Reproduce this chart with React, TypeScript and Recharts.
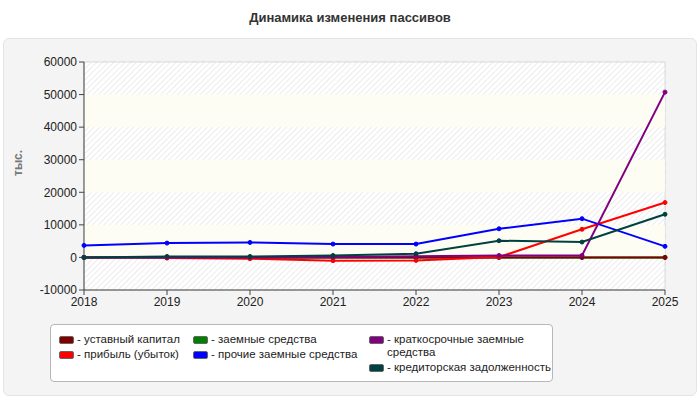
import React from "react";
import {
  CartesianGrid,
  Line,
  LineChart,
  ReferenceArea,
  XAxis,
  YAxis,
} from "recharts";

const years = [2018, 2019, 2020, 2021, 2022, 2023, 2024, 2025];
const charterCapital = [10, 10, 10, 10, 10, 10, 10, 10];
const profit = [null, -200, -400, -1000, -920, 100, 8630, 16850];
const borrowedFunds = [0, 0, 0, 0, 0, 0, 0, 0];
const otherBorrowed = [3700, 4400, 4600, 4100, 4100, 8800, 11900, 3400];
const shortTermBorrowed = [0, 0, 0, 100, 400, 600, 600, 50750];
const payables = [0, 300, 300, 600, 1130, 5130, 4720, 13250];

const yTicks = [-10000, 0, 10000, 20000, 30000, 40000, 50000, 60000];
const yellowBands = [
  [0, 10000],
  [20000, 30000],
  [40000, 50000],
];

const series = [
  { key: "charter", name: "уставный капитал", color: "#800000", values: charterCapital },
  { key: "profit", name: "прибыль (убыток)", color: "#ff0000", values: profit },
  { key: "borrowed", name: "заемные средства", color: "#008000", values: borrowedFunds },
  { key: "other", name: "прочие заемные средства", color: "#0000ff", values: otherBorrowed },
  { key: "short", name: "краткосрочные заемные средства", color: "#800080", values: shortTermBorrowed },
  { key: "payables", name: "кредиторская задолженность", color: "#004040", values: payables },
];

// draw order: green zero line goes under the dark red one
const drawOrder = ["borrowed", "charter", "profit", "other", "short", "payables"];

const data = years.map((year, i) => {
  const row: Record<string, number | null> = { year };
  series.forEach((s) => {
    row[s.key] = s.values[i];
  });
  return row;
});

const font = "Arial, 'Liberation Sans', sans-serif";

// legend laid out in three columns like the original
const legendColumns = [
  [0, 1],
  [2, 3],
  [4, 5],
];
const columnLefts = [8, 142, 318];

function legendLabel(name: string) {
  // the long name wraps after its second word in the original
  if (name === "краткосрочные заемные средства") {
    return (
      <>
        - краткосрочные заемные
        <br />
        средства
      </>
    );
  }
  return <>- {name}</>;
}

function ChartLegend() {
  return (
    <div
      style={{
        position: "absolute",
        left: 50,
        top: 324,
        width: 503,
        height: 58,
        border: "1px solid #b8b8b8",
        borderRadius: 4,
        background: "#fff",
        boxSizing: "border-box",
        fontFamily: font,
        fontSize: 11.5,
        color: "#222",
      }}
    >
      {legendColumns.map((col, ci) => (
        <div key={ci} style={{ position: "absolute", left: columnLefts[ci], top: 8 }}>
          {col.map((idx) => {
            const s = series[idx];
            return (
              <div
                key={s.key}
                style={{ display: "flex", alignItems: "flex-start", marginBottom: 2, lineHeight: "13px" }}
              >
                <span
                  style={{
                    display: "inline-block",
                    width: 13,
                    height: 6,
                    marginTop: 3,
                    borderRadius: 2,
                    border: "1px solid #666",
                    background: s.color,
                    flexShrink: 0,
                  }}
                />
                <span style={{ marginLeft: 3, whiteSpace: "nowrap" }}>{legendLabel(s.name)}</span>
              </div>
            );
          })}
        </div>
      ))}
    </div>
  );
}

export default function App() {
  return (
    <div
      style={{
        position: "absolute",
        left: 0,
        top: 0,
        width: 700,
        height: 400,
        background: "#fff",
        fontFamily: font,
      }}
    >
      <svg width={0} height={0} style={{ position: "absolute" }}>
        <defs>
          <pattern id="hatch" width="4" height="4" patternUnits="userSpaceOnUse" patternTransform="rotate(45)">
            <rect width="4" height="4" fill="#ffffff" />
            <line x1="0" y1="0" x2="0" y2="4" stroke="#e6e6e6" strokeWidth="1.5" />
          </pattern>
        </defs>
      </svg>
      <div
        style={{
          position: "absolute",
          left: 0,
          top: 10,
          width: 700,
          textAlign: "center",
          fontSize: 13,
          fontWeight: "bold",
          color: "#333",
        }}
      >
        Динамика изменения пассивов
      </div>
      <div
        style={{
          position: "absolute",
          left: 3,
          top: 38,
          width: 694,
          height: 358,
          background: "#f4f4f4",
          border: "1px solid #e4e4e4",
          borderRadius: 6,
          boxSizing: "border-box",
        }}
      />
      <div style={{ position: "absolute", left: 0, top: 0 }}>
        <LineChart
          width={700}
          height={400}
          data={data}
          margin={{ top: 62, right: 35, bottom: 90, left: 24 }}
        >
          <ReferenceArea y1={-10000} y2={60000} fill="url(#hatch)" fillOpacity={1} stroke="#dcdcdc" />
          {yellowBands.map(([a, b]) => (
            <ReferenceArea key={a} y1={a} y2={b} fill="#fdfdf3" fillOpacity={0.9} stroke="none" />
          ))}
          <CartesianGrid stroke="#d8d8d8" strokeDasharray="5 4" />
          <XAxis
            dataKey="year"
            type="number"
            domain={[2018, 2025]}
            ticks={years}
            tick={{ fill: "#222", fontSize: 12 }}
            stroke="#444"
            tickLine={{ stroke: "#444" }}
            tickSize={5}
            height={20}
          />
          <YAxis
            domain={[-10000, 60000]}
            ticks={yTicks}
            tick={{ fill: "#222", fontSize: 12 }}
            stroke="#444"
            tickSize={5}
            width={60}
            label={{
              value: "тыс.",
              angle: -90,
              position: "insideLeft",
              offset: -2,
              dx: -4,
              style: { fill: "#777", fontSize: 12, fontWeight: "bold" },
            }}
          />
          {drawOrder.map((k) => {
            const s = series.find((x) => x.key === k)!;
            return (
              <Line
                key={s.key}
                dataKey={s.key}
                name={s.name}
                stroke={s.color}
                strokeWidth={2}
                dot={{ r: 2, fill: s.color, stroke: s.color, strokeWidth: 1 }}
                activeDot={false}
                isAnimationActive={false}
              />
            );
          })}
        </LineChart>
      </div>
      <ChartLegend />
    </div>
  );
}
